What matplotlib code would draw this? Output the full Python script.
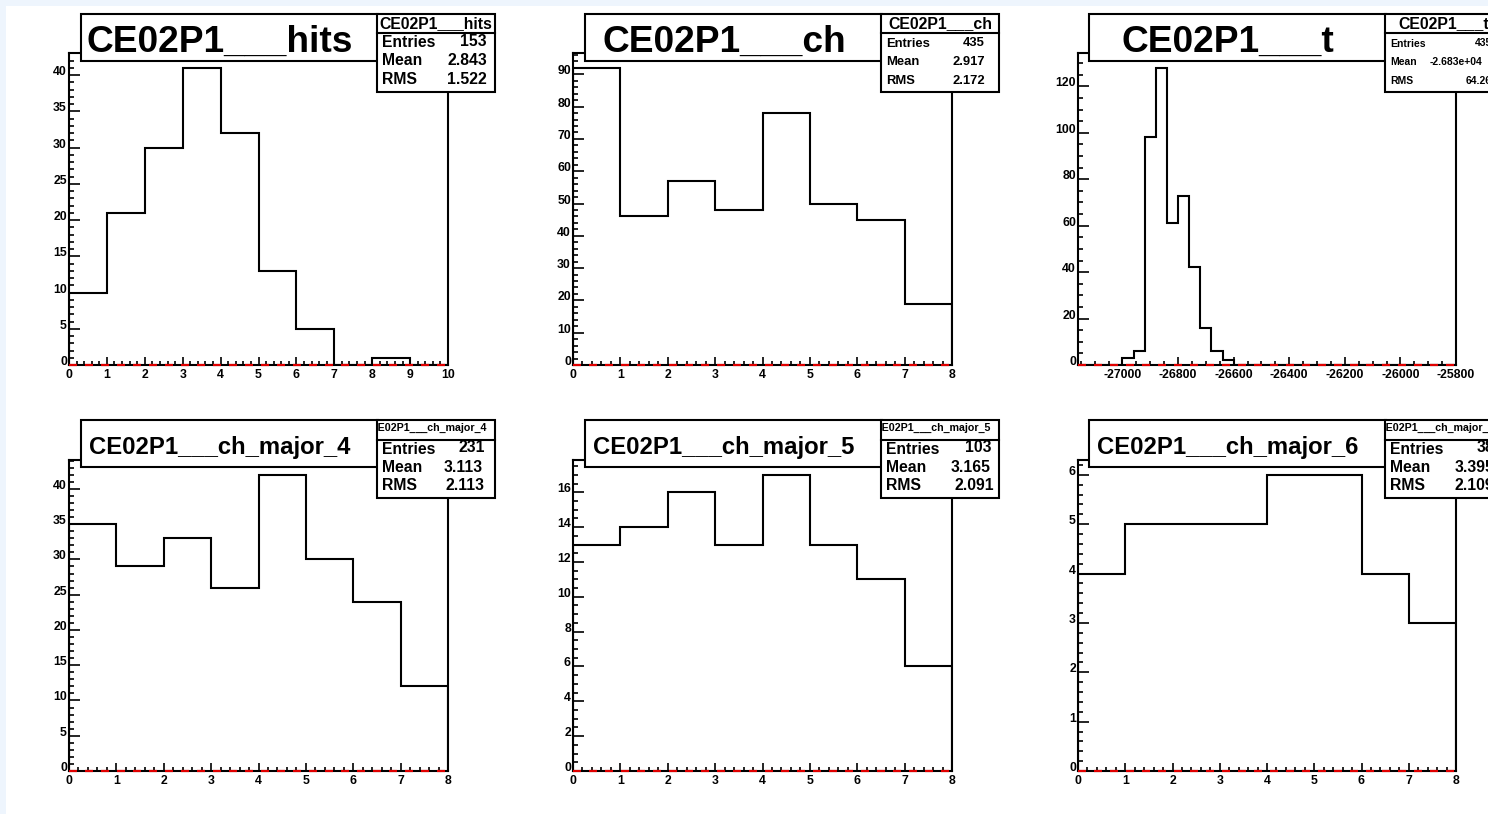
import numpy as np
import matplotlib
matplotlib.use('Agg')
import matplotlib.pyplot as plt
from matplotlib.patches import Rectangle
from matplotlib.lines import Line2D
from matplotlib.ticker import MultipleLocator
from matplotlib.transforms import Bbox, TransformedBbox

plt.rcParams['font.family'] = ['Liberation Sans', 'DejaVu Sans']
plt.rcParams['font.weight'] = 'bold'

W, H = 1488, 814

# histogram contents (one entry per bin)
hits_counts = [10, 21, 30, 41, 32, 13, 5, 0, 1, 0]
ch_counts = [92, 46, 57, 48, 78, 50, 45, 19]
t_counts = [0] * 4 + [3, 6, 98, 128, 61, 73, 42, 16, 6, 2] + [0] * 20
major4_counts = [35, 29, 33, 26, 42, 30, 24, 12]
major5_counts = [13, 14, 16, 13, 17, 13, 11, 6]
major6_counts = [4, 5, 5, 5, 6, 6, 4, 3]

names = ['CE02P1___hits', 'CE02P1___ch', 'CE02P1___t',
         'CE02P1___ch_major_4', 'CE02P1___ch_major_5', 'CE02P1___ch_major_6']
counts = [hits_counts, ch_counts, t_counts, major4_counts, major5_counts, major6_counts]
x_ranges = [(0, 10), (0, 8), (-27160, -25800), (0, 8), (0, 8), (0, 8)]

entries = ['153', '435', '435', '231', '103', '38']
means = ['2.843', '2.917', '-2.683e+04', '3.113', '3.165', '3.395']
rmss = ['1.522', '2.172', '64.26', '2.113', '2.091', '2.109']

x_steps = [(1, 0.2), (1, 0.2), (200, 50), (1, 0.2), (1, 0.2), (1, 0.2)]
y_steps = [(5, 1), (10, 2), (20, 5), (5, 1), (2, 0.5), (1, 0.2)]


def px(x):
    return x / W


def py(y):
    return 1 - y / H


def box(fig, x0, y0, x1, y1, z):
    r = Rectangle((px(x0), py(y1)), (x1 - x0) / W, (y1 - y0) / H,
                  transform=fig.transFigure, facecolor='white',
                  edgecolor='black', lw=1.5, zorder=z)
    fig.add_artist(r)


fig = plt.figure(figsize=(W / 100, H / 100), dpi=100, facecolor='#eef5fd')
fig.add_artist(Rectangle((px(6), 0), 1, py(6), transform=fig.transFigure,
                         facecolor='white', edgecolor='none', zorder=-10))

col_left = [69, 573, 1078]
col_right = [448, 952, 1456]
row_top = [53, 460]
row_bottom = [365, 771]

title_x0 = [81, 585, 1089]
stats_x0 = [377, 881, 1385]
box_top = [14, 420]
title_bottom = [61, 467]
stats_bottom = [92, 498]
stats_div = [33, 440]

title_size = [26.7, 17.2]
head_size = [11.3, 11.4, 11.4, 7.7, 7.7, 7.7]
row_size = [11.3, 9.4, 7.5, 11.3, 11.3, 11.3]
val_pad = [(8, 8, 8), (14, 14, 14), (11, 21, 11), (10, 12, 11), (7, 8, 5), (9, 9, 9)]
row_base = [(47, 65, 83.5), (454, 472, 490)]

for i in range(6):
    r, c = divmod(i, 3)
    l, rr = col_left[c], col_right[c]
    t, b = row_top[r], row_bottom[r]
    ax = fig.add_axes([px(l), py(b), (rr - l) / W, (b - t) / H])

    lo, hi = x_ranges[i]
    edges = np.linspace(lo, hi, len(counts[i]) + 1)
    ax.stairs(counts[i], edges, color='black', lw=1.5, baseline=0)
    ax.axhline(0, color='#e00000', lw=1.6, dashes=(3.6, 3.6), clip_on=False, zorder=5)
    ax.set_xlim(lo, hi)
    ax.set_ylim(0, 1.05 * max(counts[i]))

    ax.xaxis.set_major_locator(MultipleLocator(x_steps[i][0]))
    ax.xaxis.set_minor_locator(MultipleLocator(x_steps[i][1]))
    ax.yaxis.set_major_locator(MultipleLocator(y_steps[i][0]))
    ax.yaxis.set_minor_locator(MultipleLocator(y_steps[i][1]))
    ax.tick_params(axis='both', which='both', direction='in', width=1.2,
                   labelsize=8.8, colors='black')
    ax.tick_params(axis='x', which='major', length=5.8, pad=3)
    ax.tick_params(axis='x', which='minor', length=2.9)
    ax.tick_params(axis='y', which='major', length=7.9, pad=1.5)
    ax.tick_params(axis='y', which='minor', length=3.6)
    ax.xaxis.set_major_formatter(lambda v, p: f'{v:g}')
    ax.yaxis.set_major_formatter(lambda v, p: f'{v:g}')
    for lab in ax.get_yticklabels():
        lab.set_va('baseline')
    for lab in ax.get_xticklabels() + ax.get_yticklabels():
        lab.set_fontweight('bold')
    for s in ax.spines.values():
        s.set_linewidth(1.5)

    # title box
    tx0, sx0 = title_x0[c], stats_x0[c]
    box(fig, tx0, box_top[r], sx0 + 1, title_bottom[r], 10)
    fig.text(px((tx0 + sx0) / 2 - 9), py(title_bottom[r] - 9 if r == 0 else title_bottom[r] - 13),
             names[i], ha='center', va='baseline', fontsize=title_size[r],
             fontweight='bold', zorder=11)

    # stats box
    sx1 = sx0 + 118
    box(fig, sx0, box_top[r], sx1, stats_bottom[r], 12)
    fig.add_artist(Line2D([px(sx0), px(sx1)], [py(stats_div[r])] * 2,
                          transform=fig.transFigure, color='black', lw=1.5, zorder=13))
    if r == 0:
        fig.text(px((sx0 + sx1) / 2), py(28.5), names[i], ha='center', va='baseline',
                 fontsize=head_size[i], fontweight='bold', zorder=13)
    else:
        ht = fig.text(px(sx1 - 8), py(box_top[r] + 11), names[i], ha='right',
                      va='baseline', fontsize=head_size[i], fontweight='bold', zorder=13)
        ht.set_clip_box(TransformedBbox(Bbox.from_extents(px(sx0 + 1), py(stats_div[r]),
                                                          px(sx1), py(box_top[r])),
                                        fig.transFigure))
        ht.set_clip_on(True)

    labels = ['Entries', 'Mean', 'RMS']
    values = [entries[i], means[i], rmss[i]]
    for k in range(3):
        yb = row_base[r][k]
        fig.text(px(sx0 + 5), py(yb), labels[k], ha='left', va='baseline',
                 fontsize=row_size[i], fontweight='bold', zorder=13)
        fig.text(px(sx1 - val_pad[i][k]), py(yb - (1.5 if k == 0 else 0)), values[k],
                 ha='right', va='baseline', fontsize=row_size[i],
                 fontweight='bold', zorder=13)

fig.savefig('out.png', dpi=100, facecolor=fig.get_facecolor())
